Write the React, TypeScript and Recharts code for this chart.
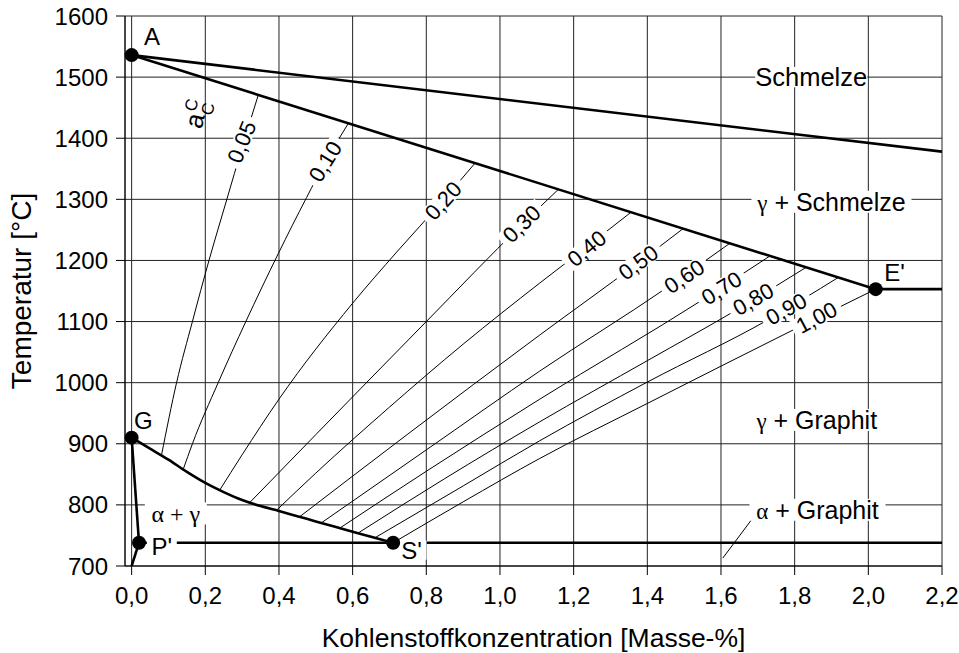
import {
  ComposedChart,
  Line,
  XAxis,
  YAxis,
  CartesianGrid,
  ReferenceDot,
  Label,
} from "recharts";

const FONT = '"Liberation Sans", Arial, Helvetica, sans-serif';
const SERIF = '"Liberation Serif", "Times New Roman", serif';

// Achsen
const X_TICKS = [0, 0.2, 0.4, 0.6, 0.8, 1.0, 1.2, 1.4, 1.6, 1.8, 2.0, 2.2];
const Y_TICKS = [700, 800, 900, 1000, 1100, 1200, 1300, 1400, 1500, 1600];

// Phasengrenzen (x = C in Masse-%, T in °C)
const LIQUIDUS = [{ x: 0, T: 1536 }, { x: 2.02, T: 1153 }];
const OBERE_LINIE = [{ x: 0, T: 1536 }, { x: 2.2, T: 1378 }];
const GS_LINIE = [
  { x: 0, T: 910 }, { x: 0.05, T: 892 }, { x: 0.1, T: 874 }, { x: 0.15, T: 854 },
  { x: 0.2, T: 836 }, { x: 0.25, T: 821 }, { x: 0.3, T: 808 }, { x: 0.35, T: 798 },
  { x: 0.4, T: 790 }, { x: 0.45, T: 781.5 }, { x: 0.5, T: 773 }, { x: 0.55, T: 764.5 },
  { x: 0.6, T: 756 }, { x: 0.65, T: 748 }, { x: 0.71, T: 738 },
];
const GP_LINIE = [{ x: 0, T: 910 }, { x: 0.02, T: 738 }];
const PQ_LINIE = [{ x: 0, T: 700 }, { x: 0.02, T: 738 }];
const EUTEKTOID = [{ x: 0.02, T: 738 }, { x: 2.2, T: 738 }];
const EUTEKTIKUM = [{ x: 2.02, T: 1153 }, { x: 2.2, T: 1153 }];
const HINWEIS_LINIE = [{ x: 1.605, T: 713 }, { x: 1.687, T: 779 }];

// Isoaktivitätslinien a_C
const ISO_005 = [{ x: 0.081, T: 881 }, { x: 0.122, T: 1000 }, { x: 0.165, T: 1100 }, { x: 0.21, T: 1200 }, { x: 0.258, T: 1299 }, { x: 0.3, T: 1385 }, { x: 0.344, T: 1471 }];
const ISO_010 = [{ x: 0.14, T: 858 }, { x: 0.165, T: 900 }, { x: 0.235, T: 1000 }, { x: 0.31, T: 1100 }, { x: 0.398, T: 1211 }, { x: 0.475, T: 1303 }, { x: 0.525, T: 1360 }, { x: 0.588, T: 1424 }];
const ISO_020 = [{ x: 0.239, T: 824 }, { x: 0.3, T: 882 }, { x: 0.4, T: 973 }, { x: 0.6, T: 1130 }, { x: 0.72, T: 1214 }, { x: 0.845, T: 1298 }, { x: 0.932, T: 1359 }];
const ISO_030 = [{ x: 0.321, T: 804 }, { x: 0.5, T: 915 }, { x: 0.8, T: 1100 }, { x: 1.058, T: 1258 }, { x: 1.158, T: 1316 }];
const ISO_040 = [{ x: 0.393, T: 791 }, { x: 0.5, T: 852 }, { x: 0.7, T: 960 }, { x: 0.9, T: 1063 }, { x: 1.108, T: 1163 }, { x: 1.235, T: 1222 }, { x: 1.356, T: 1279 }];
const ISO_050 = [{ x: 0.457, T: 781 }, { x: 0.75, T: 916 }, { x: 1.108, T: 1078 }, { x: 1.375, T: 1196 }, { x: 1.497, T: 1252 }];
const ISO_060 = [{ x: 0.516, T: 771 }, { x: 0.8, T: 890 }, { x: 1.108, T: 1019 }, { x: 1.452, T: 1155 }, { x: 1.624, T: 1228 }];
const ISO_070 = [{ x: 0.565, T: 762 }, { x: 0.8, T: 855 }, { x: 1.108, T: 973 }, { x: 1.551, T: 1136 }, { x: 1.732, T: 1207 }];
const ISO_080 = [{ x: 0.615, T: 754 }, { x: 0.85, T: 843 }, { x: 1.108, T: 936 }, { x: 1.4, T: 1036 }, { x: 1.642, T: 1119 }, { x: 1.832, T: 1189 }];
const ISO_090 = [{ x: 0.66, T: 746 }, { x: 0.9, T: 831 }, { x: 1.108, T: 905 }, { x: 1.4, T: 1001 }, { x: 1.728, T: 1103 }, { x: 1.918, T: 1172 }];
const ISO_100 = [{ x: 0.71, T: 738 }, { x: 0.9, T: 805 }, { x: 1.108, T: 876 }, { x: 1.4, T: 966 }, { x: 1.805, T: 1089 }, { x: 2.02, T: 1153 }];

const ISOLINIEN = [ISO_005, ISO_010, ISO_020, ISO_030, ISO_040, ISO_050, ISO_060, ISO_070, ISO_080, ISO_090, ISO_100];
const ISO_WERTE = ["0,05", "0,10", "0,20", "0,30", "0,40", "0,50", "0,60", "0,70", "0,80", "0,90", "1,00"];

// Punkte
const PUNKTE = [
  { name: "A", x: 0, T: 1536 },
  { name: "G", x: 0, T: 910 },
  { name: "P'", x: 0.02, T: 738 },
  { name: "S'", x: 0.71, T: 738 },
  { name: "E'", x: 2.02, T: 1153 },
];

// Beschriftungen (Lage der Texte)
const ISO_TAGS = [
  { x: 0.298, T: 1394, angle: -68 },
  { x: 0.525, T: 1362, angle: -58 },
  { x: 0.845, T: 1298, angle: -48 },
  { x: 1.058, T: 1260, angle: -44 },
  { x: 1.235, T: 1220, angle: -40 },
  { x: 1.375, T: 1197, angle: -36 },
  { x: 1.5, T: 1174, angle: -34 },
  { x: 1.601, T: 1155, angle: -32 },
  { x: 1.687, T: 1137, angle: -30 },
  { x: 1.777, T: 1121, angle: -29 },
  { x: 1.859, T: 1107, angle: -28 },
];

const PUNKT_TAGS = [
  { text: "A", x: 0.055, T: 1566 },
  { text: "G", x: 0.032, T: 938 },
  { text: "P'", x: 0.082, T: 732 },
  { text: "S'", x: 0.76, T: 726 },
  { text: "E'", x: 2.071, T: 1181 },
];

const fmt = (v: number) => v.toFixed(1).replace(".", ",");

function Tag({ cx, cy, angle = 0, w, h, children }: any) {
  return (
    <g transform={`translate(${cx},${cy}) rotate(${angle})`}>
      <rect x={-w / 2} y={-h / 2} width={w} height={h} fill="#fff" />
      {children}
    </g>
  );
}

function TextTag({ cx, cy, text, size, angle = 0, pad = 3 }: any) {
  const w = text.length * size * 0.54 + pad * 2;
  return (
    <Tag cx={cx} cy={cy} angle={angle} w={w} h={size * 0.8}>
      <text x={0} y={0} dy="0.36em" textAnchor="middle" fontSize={size} fontFamily={FONT} fill="#000">
        {text}
      </text>
    </Tag>
  );
}

function PhaseTag({ cx, cy, greek, rest, w }: any) {
  return (
    <Tag cx={cx} cy={cy} w={w} h={22}>
      <text x={0} y={0} dy="0.36em" textAnchor="middle" fontSize={25} fontFamily={FONT} fill="#000">
        <tspan fontFamily={SERIF} fontSize={23}>{greek}</tspan>
        {rest}
      </text>
    </Tag>
  );
}

export default function App() {
  const dick = { stroke: "#000", strokeWidth: 2.6, dot: false, isAnimationActive: false, activeDot: false } as any;
  const duenn = { stroke: "#000", strokeWidth: 1, dot: false, isAnimationActive: false, activeDot: false } as any;

  return (
    <div style={{ position: "absolute", left: 0, top: 0, width: 959, height: 653, background: "#fff" }}>
      <ComposedChart width={959} height={653} margin={{ top: 16, right: 17, left: 0, bottom: 0 }}>
        <CartesianGrid stroke="#222" strokeWidth={1} />
        <XAxis
          type="number"
          dataKey="x"
          domain={[-0.018, 2.2]}
          ticks={X_TICKS}
          allowDataOverflow
          height={87}
          tickSize={9}
          tickMargin={12}
          tickFormatter={fmt}
          stroke="#000"
          tick={{ fill: "#000", fontSize: 24, fontFamily: FONT }}
        >
          <Label
            value="Kohlenstoffkonzentration [Masse-%]"
            position="insideBottom"
            offset={6}
            fontSize={26.5}
            fontFamily={FONT}
            fill="#000"
          />
        </XAxis>
        <YAxis
          type="number"
          domain={[700, 1600]}
          ticks={Y_TICKS}
          allowDataOverflow
          width={125}
          tickSize={9}
          tickMargin={8}
          stroke="#000"
          tick={{ fill: "#000", fontSize: 24, fontFamily: FONT }}
        >
          <Label
            value="Temperatur [°C]"
            angle={-90}
            position="insideLeft"
            offset={21}
            fontSize={28}
            fontFamily={FONT}
            fill="#000"
            style={{ textAnchor: "middle" }}
          />
        </YAxis>

        {ISOLINIEN.map((d, i) => (
          <Line key={`iso-${i}`} data={d} dataKey="T" type="monotone" {...duenn} />
        ))}
        <Line data={HINWEIS_LINIE} dataKey="T" type="linear" {...duenn} />

        <Line data={LIQUIDUS} dataKey="T" type="linear" {...dick} />
        <Line data={OBERE_LINIE} dataKey="T" type="linear" {...dick} />
        <Line data={GS_LINIE} dataKey="T" type="monotone" {...dick} />
        <Line data={PQ_LINIE} dataKey="T" type="linear" {...dick} />
        <Line data={EUTEKTOID} dataKey="T" type="linear" {...dick} />
        <Line data={EUTEKTIKUM} dataKey="T" type="linear" {...dick} />

        {ISO_TAGS.map((t, i) => (
          <ReferenceDot
            key={`isotag-${i}`}
            x={t.x}
            y={t.T}
            shape={(p: any) => <TextTag cx={p.cx} cy={p.cy} text={ISO_WERTE[i]} size={22} angle={t.angle} />}
          />
        ))}

        <ReferenceDot
          x={0.172}
          y={1435}
          shape={(p: any) => (
            <g transform={`translate(${p.cx},${p.cy}) rotate(-76)`}>
              <text x={-11} y={0} dy="0.36em" fontSize={26} fontFamily={FONT} fill="#000">
                a
                <tspan fontSize={17} dx={1} dy={-10}>C</tspan>
                <tspan fontSize={17} dx={-12} dy={17}>C</tspan>
              </text>
            </g>
          )}
        />

        <ReferenceDot x={1.845} y={1500} shape={(p: any) => <TextTag cx={p.cx} cy={p.cy} text="Schmelze" size={25.5} pad={1} />} />
        <ReferenceDot x={1.9} y={1296} shape={(p: any) => <PhaseTag cx={p.cx} cy={p.cy} greek="γ" rest=" + Schmelze" w={160} />} />
        <ReferenceDot x={1.86} y={939} shape={(p: any) => <PhaseTag cx={p.cx} cy={p.cy} greek="γ" rest=" + Graphit" w={132} />} />
        <ReferenceDot x={1.862} y={792} shape={(p: any) => <PhaseTag cx={p.cx} cy={p.cy} greek="α" rest=" + Graphit" w={136} />} />
        <ReferenceDot
          x={0.12}
          y={786}
          shape={(p: any) => (
            <Tag cx={p.cx} cy={p.cy} w={62} h={22}>
              <text x={0} y={0} dy="0.36em" textAnchor="middle" fontSize={24} fontFamily={SERIF} fill="#000">
                α + γ
              </text>
            </Tag>
          )}
        />

        {/* G-P' nach den Beschriftungen, damit sie nicht verdeckt wird */}
        <Line data={GP_LINIE} dataKey="T" type="linear" {...dick} />

        {PUNKT_TAGS.map((t) => (
          <ReferenceDot
            key={`pt-${t.text}`}
            x={t.x}
            y={t.T}
            shape={(p: any) => <TextTag cx={p.cx} cy={p.cy} text={t.text} size={24} pad={2} />}
          />
        ))}

        {PUNKTE.map((p) => (
          <ReferenceDot key={p.name} x={p.x} y={p.T} r={7} fill="#000" stroke="none" />
        ))}
      </ComposedChart>
    </div>
  );
}
